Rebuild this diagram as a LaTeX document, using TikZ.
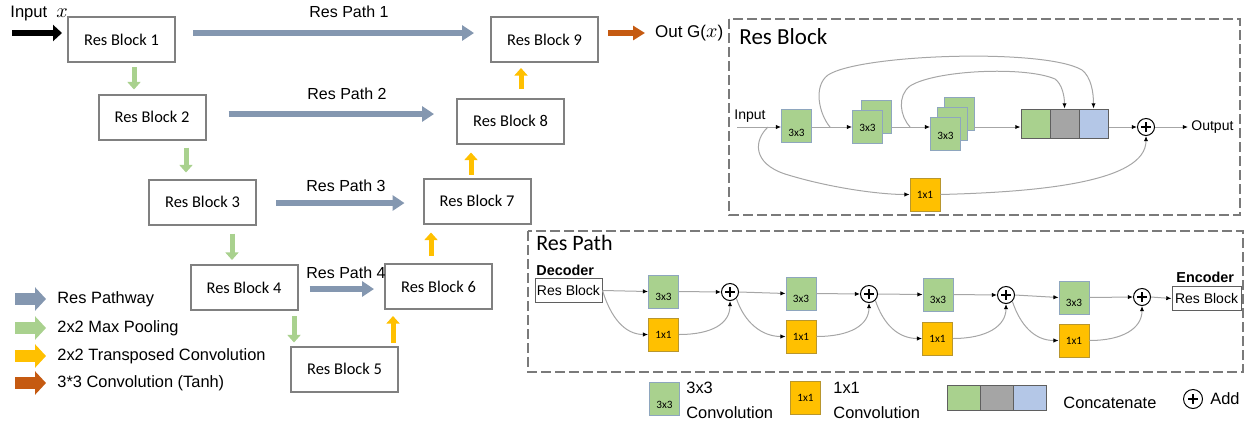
\documentclass[tikz,border=0pt]{standalone}
\usepackage{fontspec}
\setmainfont{Liberation Sans}
\newfontfamily\calfont{Carlito}
\usetikzlibrary{arrows.meta}

\definecolor{pathblue}{HTML}{8497B0}
\definecolor{poolgreen}{HTML}{A9D18E}
\definecolor{upyellow}{HTML}{FFC000}
\definecolor{tanhorange}{HTML}{C55A11}
\definecolor{boxgrey}{HTML}{808080}
\definecolor{wiregrey}{HTML}{A6A6A6}
\definecolor{convedge}{HTML}{8EA6BE}
\definecolor{oneedge}{HTML}{B8962E}
\definecolor{catgrey}{HTML}{A5A5A5}
\definecolor{catblue}{HTML}{B4C7E7}
\definecolor{catedge}{HTML}{5F5F5F}
\definecolor{framegrey}{HTML}{7A7A7A}

\tikzset{
  blk/.style={draw=boxgrey, line width=1pt, fill=white, minimum width=53.5pt,
    minimum height=22.5pt, inner sep=0pt, font=\calfont\fontsize{8.2}{9.8}\selectfont},
  pathlbl/.style={font=\fontsize{8}{9.6}\selectfont, inner sep=0pt},
  rpath/.style={draw=pathblue, line width=3.4pt, -{Triangle[length=6pt,width=7.5pt]}},
  pool/.style={draw=poolgreen, line width=2.5pt, -{Triangle[length=3.8pt,width=6.5pt]}},
  upconv/.style={draw=upyellow, line width=2.5pt, -{Triangle[length=3.8pt,width=6.5pt]}},
  tanh/.style={draw=tanhorange, line width=3.4pt, -{Triangle[length=6pt,width=7pt]}},
  inarr/.style={draw=black, line width=3.4pt, -{Triangle[length=4.5pt,width=8pt]}},
  lgarr/.style={line width=6pt, -{Triangle[length=5.5pt,width=11.5pt]}},
  lgtxt/.style={anchor=west, inner sep=0pt, font=\fontsize{8.2}{12.5}\selectfont},
  panel/.style={draw=framegrey, line width=1.2pt, dash pattern=on 5pt off 2pt},
  ptitle/.style={anchor=west, inner sep=0pt, font=\calfont\fontsize{11.5}{13.8}\selectfont},
  wire/.style={draw=wiregrey, line width=0.5pt, -{Latex[length=2.6pt,width=2.2pt,color=black]}},
  k3/.style={draw=convedge, fill=poolgreen, line width=0.4pt, minimum width=15pt,
    minimum height=16.5pt, inner sep=0pt, font=\calfont\fontsize{5.6}{6.5}\selectfont},
  k1/.style={k3, draw=oneedge, fill=upyellow},
  catcell/.style={draw=catedge, line width=0.5pt, minimum width=14.5pt, minimum height=14.5pt, inner sep=0pt},
  sumnode/.style={circle, draw=black, line width=0.5pt, fill=white, minimum size=8.5pt, inner sep=0pt,
    path picture={
      \draw[line width=0.7pt] ([xshift=-2.5pt]path picture bounding box.center) -- ([xshift=2.5pt]path picture bounding box.center);
      \draw[line width=0.7pt] ([yshift=-2.5pt]path picture bounding box.center) -- ([yshift=2.5pt]path picture bounding box.center);}},
  smalltxt/.style={font=\fontsize{7}{8.4}\selectfont},
  boldtxt/.style={anchor=west, inner sep=0pt, font=\bfseries\fontsize{7.2}{8.6}\selectfont},
  pathbox/.style={draw=catedge, line width=0.5pt, fill=white, minimum width=33.5pt,
    minimum height=12pt, inner sep=0pt, smalltxt},
}

\begin{document}
\begin{tikzpicture}[x=0.5pt,y=-0.5pt]
\useasboundingbox (0,0) rectangle (1253,424);

% ---------------- encoder / decoder ladder ----------------
\node[blk] (B1) at (121.5,39.5) {Res Block 1};
\node[blk] (B2) at (152,117) {Res Block 2};
\node[blk] (B3) at (202.5,202) {Res Block 3};
\node[blk] (B4) at (244,287.5) {Res Block 4};
\node[blk] (B5) at (344.5,369) {Res Block 5};
\node[blk] (B6) at (438.5,286.5) {Res Block 6};
\node[blk] (B7) at (477,201) {Res Block 7};
\node[blk] (B8) at (510.5,121) {Res Block 8};
\node[blk] (B9) at (544.5,39.5) {Res Block 9};

% input
\node[anchor=west, inner sep=0pt, font=\fontsize{8.3}{10}\selectfont] (inlbl) at (10,13.5) {Input\hspace{4.5pt}{\fontsize{10}{12}\selectfont$x$}};
\coordinate (in0) at (12,33);
\draw[inarr] (in0) -- ([shift={(-5,-6.5)}]B1.west);

% output
\node[anchor=west, font=\fontsize{8.5}{10}\selectfont] (outg) at (648,33) {Out G({\fontsize{10}{12}\selectfont$x$})};
\draw[tanh] ([shift={(9,-6.5)}]B9.east) -- ([xshift=-1.5pt]outg.west);

% res paths
\node[pathlbl] (rpl1) at (349,12) {Res Path 1};
\node[pathlbl] (rpl2) at (347,94) {Res Path 2};
\node[pathlbl] (rpl3) at (346,186) {Res Path 3};
\node[pathlbl] (rpl4) at (346,273) {Res Path 4};
\draw[rpath] ([shift={(17,-6.5)}]B1.east) -- ([shift={(-16,-6.5)}]B9.west);
\draw[rpath] ([shift={(22,-3)}]B2.east) -- ([shift={(-22,-7)}]B8.west);
\draw[rpath] ([shift={(19,1)}]B3.east) -- ([shift={(-18,2)}]B7.west);
\draw[rpath] ([shift={(11,1.5)}]B4.east) -- ([shift={(-10,2.5)}]B6.west);

% pooling (down)
\draw[pool, shorten <=2pt, shorten >=2pt] ([xshift=6.25pt]B1.south) -- ([xshift=6.25pt]B1.south |- B2.north);
\draw[pool, shorten <=3.5pt, shorten >=3pt] ([xshift=17pt]B2.south) -- ([xshift=17pt]B2.south |- B3.north);
\draw[pool, shorten <=4pt, shorten >=2pt] ([xshift=14.75pt]B3.south) -- ([xshift=14.75pt]B3.south |- B4.north);
\draw[pool, shorten <=2.5pt, shorten >=1.5pt] ([xshift=25pt]B4.south) -- ([xshift=25pt]B4.south |- B5.north);

% transposed convolutions (up)
\draw[upconv, shorten <=1.5pt, shorten >=3pt] ([xshift=24.25pt]B5.north) -- ([xshift=24.25pt]B5.north |- B6.south);
\draw[upconv, shorten <=3.5pt, shorten >=4pt] ([xshift=-3.75pt]B6.north) -- ([xshift=-3.75pt]B6.north |- B7.south);
\draw[upconv, shorten <=1.5pt, shorten >=4pt] ([xshift=-3pt]B7.north) -- ([xshift=-3pt]B7.north |- B8.south);
\draw[upconv, shorten <=4.5pt, shorten >=2.5pt] ([xshift=5.25pt]B8.north) -- ([xshift=5.25pt]B8.north |- B9.south);

% legend
\node[lgtxt] (lg1) at (57,299) {Res Pathway};
\node[lgtxt] (lg2) at (57,328) {2x2 Max Pooling};
\node[lgtxt] (lg3) at (57,356) {2x2 Transposed Convolution};
\node[lgtxt] (lg4) at (57,383) {3*3 Convolution (Tanh)};
\draw[lgarr, draw=pathblue] ([xshift=-21pt]lg1.west) -- ([xshift=-5.5pt]lg1.west);
\draw[lgarr, draw=poolgreen] ([xshift=-21pt]lg2.west) -- ([xshift=-5.5pt]lg2.west);
\draw[lgarr, draw=upyellow] ([xshift=-21pt]lg3.west) -- ([xshift=-5.5pt]lg3.west);
\draw[lgarr, draw=tanhorange] ([xshift=-21pt]lg4.west) -- ([xshift=-5.5pt]lg4.west);

% ---------------- residual block detail ----------------
\draw[panel] (729,19) rectangle (1240,215);
\node[ptitle] (rbtitle) at (739,37) {Res Block};
\node[smalltxt, anchor=west, inner sep=0pt] (rbin) at (734,116) {Input};
\coordinate (rbin0) at (737,127);
\node[k3] (rc1) at (796.5,126) {\raisebox{-5pt}[0pt][0pt]{3x3}};
\node[k3] (rc2b) at (876.5,117) {};
\node[k3] (rc2) at (867.5,127) {\raisebox{-2pt}[0pt][0pt]{3x3}};
\node[k3] (rc3c) at (959,113.5) {};
\node[k3] (rc3b) at (952,123.5) {};
\node[k3] (rc3) at (945.5,134) {\raisebox{-2.5pt}[0pt][0pt]{3x3}};
\node[catcell, fill=poolgreen] (cg) at (1035.5,123.5) {};
\node[catcell, fill=catgrey] (cgr) at (1064.5,123.5) {};
\node[catcell, fill=catblue] (cb) at (1093.5,123.5) {};
\node[sumnode] (rsum) at (1146,127) {};
\node[smalltxt, anchor=west, inner sep=0pt] (rbout) at (1191,127) {Output};
\node[k1] (rskip) at (925,194.5) {1x1};
\coordinate (br0) at (768,127);
\coordinate (br1) at (830,127);
\coordinate (br2) at (910,127);

\draw[wire] (rbin0) -- (rbin0 -| rc1.west);
\draw[wire] (rc1.east |- rbin0) -- (rc2.west |- rbin0);
\draw[wire] (rc2b.east |- rbin0) -- (rc3.west |- rbin0);
\draw[wire] (rc3c.east |- rbin0) -- (cg.west |- rbin0);
\draw[wire] (cb.east |- rbin0) -- (rsum.west);
\draw[wire] (rsum.east) -- ([xshift=-1.5pt]rbout.west);
\draw[wire] (br1) .. controls (819,114) and (813,86) .. (828,75)
  .. controls (860,54) and (1045,48) .. (1082,70)
  .. controls (1091,77) and (1093.5,92) .. (cb.north);
\draw[wire] (br2) .. controls (900,116) and (897,96) .. (910,86)
  .. controls (935,70) and (1025,66) .. (1055,79)
  .. controls (1062,84) and (1064.5,96) .. (cgr.north);
\draw[wire] (br0) .. controls (754,140) and (752,163) .. (785,174)
  .. controls (830,188) and (880,194.5) .. (rskip.west);
\draw[wire] (rskip.east) .. controls (1040,192) and (1146,182) .. (rsum.south);

% ---------------- residual path detail ----------------
\draw[panel] (528,231) rectangle (1243,372);
\node[ptitle, font=\calfont\fontsize{11}{13}\selectfont] (rptitle) at (536,243) {Res Path};
\node[boldtxt] (dectxt) at (536,270) {Decoder};
\node[pathbox] (dec) at (568.5,290.5) {Res Block};
\node[boldtxt] (enctxt) at (1176,277) {Encoder};
\node[pathbox, minimum width=34.5pt] (enc) at (1206.5,298.5) {Res Block};

\node[k3] (g1) at (663.5,291.5) {\raisebox{-4.5pt}[0pt][0pt]{3x3}};
\node[k1] (x1) at (663.5,334.5) {1x1};
\node[sumnode] (p1) at (730,292) {};
\node[k3] (g2) at (801,293.5) {\raisebox{-4.5pt}[0pt][0pt]{3x3}};
\node[k1] (x2) at (801,336.5) {1x1};
\node[sumnode] (p2) at (869,294) {};
\node[k3] (g3) at (938,294.5) {\raisebox{-4.5pt}[0pt][0pt]{3x3}};
\node[k1] (x3) at (937.5,338.5) {1x1};
\node[sumnode] (p3) at (1006,295) {};
\node[k3] (g4) at (1074,297.5) {\raisebox{-4.5pt}[0pt][0pt]{3x3}};
\node[k1] (x4) at (1074,340.5) {1x1};
\node[sumnode] (p4) at (1142,297) {};

\draw[wire] (dec.east) -- (g1.west);
\draw[wire] (dec.east) .. controls +(8,26) and +(-24,0) .. (x1.west);
\draw[wire] (g1.east) -- (p1.west);
\draw[wire] (x1.east) .. controls +(34,0) and +(0,22) .. (p1.south);
\draw[wire] (p1.east) -- (g2.west);
\draw[wire] (p1.south east) .. controls +(8,24) and +(-24,0) .. (x2.west);
\draw[wire] (g2.east) -- (p2.west);
\draw[wire] (x2.east) .. controls +(34,0) and +(0,22) .. (p2.south);
\draw[wire] (p2.east) -- (g3.west);
\draw[wire] (p2.south east) .. controls +(8,24) and +(-24,0) .. (x3.west);
\draw[wire] (g3.east) -- (p3.west);
\draw[wire] (x3.east) .. controls +(34,0) and +(0,22) .. (p3.south);
\draw[wire] (p3.east) -- (g4.west);
\draw[wire] (p3.south east) .. controls +(8,24) and +(-24,0) .. (x4.west);
\draw[wire] (g4.east) -- (p4.west);
\draw[wire] (x4.east) .. controls +(34,0) and +(0,22) .. (p4.south);
\draw[wire] (p4.east) -- (enc.west);

% ---------------- symbol key ----------------
\node[k3] (lk3) at (664.5,399) {\raisebox{-4.5pt}[0pt][0pt]{3x3}};
\node[lgtxt, align=left] (lk3t) at (686,400) {3x3\\Convolution};
\node[k1] (lk1) at (805.5,398) {1x1};
\node[lgtxt, align=left] (lk1t) at (833,400) {1x1\\Convolution};
\node[catcell, fill=poolgreen, minimum width=16.5pt, minimum height=12.5pt] (lc1) at (963.5,397.5) {};
\node[catcell, fill=catgrey, minimum width=16.5pt, minimum height=12.5pt] (lc2) at (996.5,397.5) {};
\node[catcell, fill=catblue, minimum width=16.5pt, minimum height=12.5pt] (lc3) at (1030,397.5) {};
\node[lgtxt] (lct) at (1063,403) {Concatenate};
\node[sumnode, minimum size=9.5pt] (lsum) at (1193,399) {};
\node[lgtxt] (lst) at (1210,399) {Add};

\end{tikzpicture}
\end{document}
